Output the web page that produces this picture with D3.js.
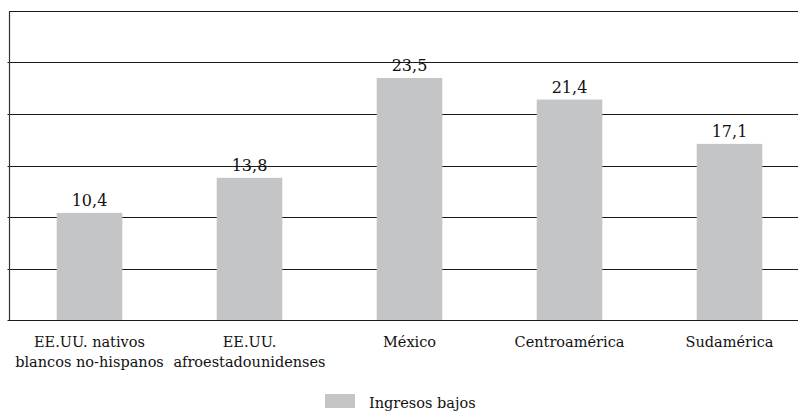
<!DOCTYPE html>
<html>
<head>
<meta charset="utf-8">
<script src="https://cdn.jsdelivr.net/npm/d3@7"></script>
<style>
  html, body { margin: 0; padding: 0; background: #fff; }
  svg { display: block; }
</style>
</head>
<body>
<svg id="chart" width="798" height="411"></svg>
<script>
// Share of households with low income, by origin group (%)
const categories = [
  ["EE.UU. nativos", "blancos no-hispanos"],
  ["EE.UU.", "afroestadounidenses"],
  ["México"],
  ["Centroamérica"],
  ["Sudamérica"]
];
const values = [10.4, 13.8, 23.5, 21.4, 17.1];
const yTicks = [0, 5, 10, 15, 20, 25, 30];
const seriesName = "Ingresos bajos";

const FONT = "'DejaVu Serif', serif";
const svg = d3.select("#chart")
  .attr("font-family", FONT);
const plot = { left: 9.5, right: 809.5, top: 11, bottom: 320 };

const x = d3.scaleBand()
  .domain(d3.range(categories.length))
  .range([plot.left, plot.right])
  .paddingInner(0)
  .paddingOuter(0);

const y = d3.scaleLinear().domain([0, 30]).range([plot.bottom, plot.top]);

// Horizontal gridlines (including top frame and baseline)
svg.append("g")
  .selectAll("line")
  .data(yTicks)
  .join("line")
  .attr("x1", d => d === 30 ? plot.left : plot.left - 2)
  .attr("x2", 798)
  .attr("y1", d => Math.round(y(d)) + 0.5)
  .attr("y2", d => Math.round(y(d)) + 0.5)
  .attr("stroke", "#1a1a1a")
  .attr("stroke-width", 1.2);

// Left axis line
svg.append("line")
  .attr("x1", plot.left).attr("x2", plot.left)
  .attr("y1", plot.top).attr("y2", plot.bottom + 0.5)
  .attr("stroke", "#333")
  .attr("stroke-width", 1.2);

const barW = x.bandwidth() * 0.41;

// Bars
svg.append("g")
  .selectAll("rect")
  .data(values)
  .join("rect")
  .attr("x", (d, i) => x(i) + (x.bandwidth() - barW) / 2)
  .attr("y", d => y(d))
  .attr("width", barW)
  .attr("height", d => y(0) - y(d))
  .attr("fill", "#c4c5c6");

// Value labels
const fmt = v => d3.format(".1f")(v).replace(".", ",");
svg.append("g")
  .selectAll("text")
  .data(values)
  .join("text")
  .attr("x", (d, i) => x(i) + x.bandwidth() / 2)
  .attr("y", d => y(d) - 7)
  .attr("text-anchor", "middle")
  .attr("font-family", FONT)
  .attr("font-size", 16)
  .attr("fill", "#111")
  .text(d => fmt(d));

// Category labels
const cat = svg.append("g")
  .selectAll("text")
  .data(categories)
  .join("text")
  .attr("x", (d, i) => x(i) + x.bandwidth() / 2)
  .attr("y", 347)
  .attr("text-anchor", "middle")
  .attr("font-family", FONT)
  .attr("font-size", 14.5)
  .attr("fill", "#111");
cat.selectAll("tspan")
  .data(d => d)
  .join("tspan")
  .attr("x", function () { return d3.select(this.parentNode).attr("x"); })
  .attr("dy", (d, i) => i === 0 ? 0 : 20)
  .text(d => d);

// Legend
const legend = svg.append("g");
legend.append("rect")
  .attr("x", 325).attr("y", 394)
  .attr("width", 30).attr("height", 14)
  .attr("fill", "#c4c5c6");
legend.append("text")
  .attr("x", 369).attr("y", 408)
  .attr("font-family", FONT)
  .attr("font-size", 14.5)
  .attr("fill", "#111")
  .text(seriesName);
</script>
</body>
</html>
